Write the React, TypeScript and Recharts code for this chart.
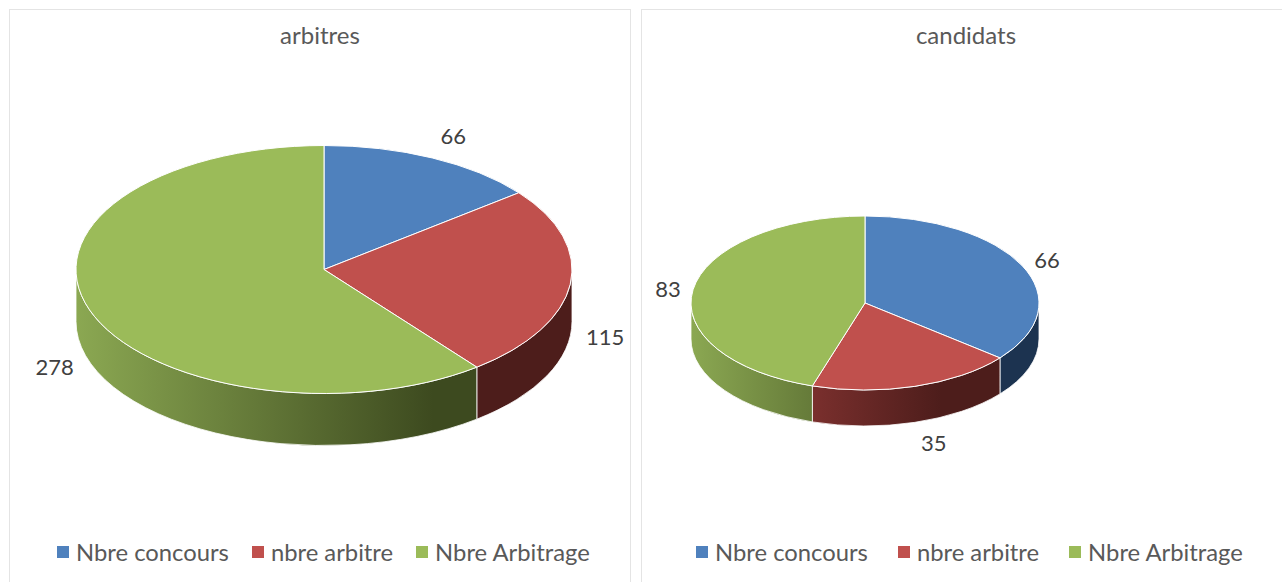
import React from 'react';
import { PieChart, Pie, Cell, Legend } from 'recharts';

const categories = ['Nbre concours', 'nbre arbitre', 'Nbre Arbitrage'];
const arbitresValues = [66, 115, 278];
const candidatsValues = [66, 35, 83];

const topColors = ['#4f81bd', '#c0504d', '#9bbb59'];
const wallLight = ['#3f6ea6', '#a4403e', '#8ba852'];
const wallDark = ['#1c3350', '#4d1d1b', '#3d4a1f'];

const FONT = 'Lato, sans-serif';
const TEXT_COLOR = '#595959';

const toRad = (deg: number) => (deg * Math.PI) / 180;

// Elliptical 3D slice, the angles come from the Pie itself
const makeSlice = (chartId: string, squash: number, depth: number) => (props: any) => {
  const { cx, cy, outerRadius, startAngle, endAngle, index } = props;
  const rx = outerRadius;
  const ry = outerRadius * squash;
  const px = (a: number) => cx + rx * Math.cos(toRad(a));
  const py = (a: number) => cy - ry * Math.sin(toRad(a));
  const large = Math.abs(startAngle - endAngle) > 180 ? 1 : 0;
  const top = `M${cx},${cy} L${px(startAngle)},${py(startAngle)} A${rx},${ry} 0 ${large} 1 ${px(endAngle)},${py(endAngle)} Z`;

  // only the front half of the rim has a visible wall
  const s = Math.min(startAngle, 0);
  const e = Math.max(endAngle, -180);
  const gradId = `${chartId}-wall-${index}`;

  return (
    <g>
      <defs>
        <linearGradient id={gradId} gradientUnits="userSpaceOnUse" x1={cx - rx} x2={cx - rx + 2 * rx * 0.72} y1={0} y2={0}>
          <stop offset="0%" stopColor={wallLight[index]} />
          <stop offset="100%" stopColor={wallDark[index]} />
        </linearGradient>
      </defs>
      {s > e && (
        <path
          d={`M${px(s)},${py(s)} A${rx},${ry} 0 0 1 ${px(e)},${py(e)} L${px(e)},${py(e) + depth} A${rx},${ry} 0 0 0 ${px(s)},${py(s) + depth} Z`}
          fill={`url(#${gradId})`}
          stroke="#fff"
          strokeWidth={0.8}
        />
      )}
      <path d={top} fill={topColors[index]} stroke="#fff" strokeWidth={1} />
    </g>
  );
};

const makeLabel = (squash: number, nudges: number[][]) => (props: any) => {
  const { cx, cy, outerRadius, midAngle, value, index } = props;
  const x = cx + outerRadius * Math.cos(toRad(midAngle)) + nudges[index][0];
  const y = cy - outerRadius * squash * Math.sin(toRad(midAngle)) + nudges[index][1];
  return (
    <text x={x} y={y} fill="#404040" fontFamily={FONT} fontSize={22} textAnchor="middle" dominantBaseline="central">
      {value}
    </text>
  );
};

const makeLegend = (gap: number, left: number) => (props: any) => {
  // keep the category order, the Legend sorts its payload by name
  const items = categories.map((name) => props.payload.find((p: any) => p.value === name)).filter(Boolean);
  return (
    <div style={{ display: 'flex', gap, marginLeft: left, fontFamily: FONT, fontSize: 23.8, color: TEXT_COLOR, lineHeight: '26px', whiteSpace: 'nowrap' }}>
      {items.map((entry: any) => (
        <span key={entry.value} style={{ display: 'flex', alignItems: 'center' }}>
          <span style={{ width: 12, height: 12, marginRight: 7, background: entry.color, display: 'inline-block' }} />
          {entry.value}
        </span>
      ))}
    </div>
  );
};

type PanelProps = {
  id: string;
  title: string;
  values: number[];
  panelLeft: number;
  panelWidth: number;
  cx: number;
  cy: number;
  radius: number;
  depth: number;
  nudges: number[][];
  legendGap: number;
  legendLeft: number;
};

const Panel: React.FC<PanelProps> = ({ id, title, values, panelLeft, panelWidth, cx, cy, radius, depth, nudges, legendGap, legendLeft }) => {
  const data = categories.map((name, i) => ({ name, value: values[i] }));
  return (
    <div style={{ position: 'absolute', left: panelLeft, top: 9, width: panelWidth, height: 600, border: '1px solid #e4e4e4', boxSizing: 'border-box' }}>
      <div style={{ position: 'absolute', left: 0, right: 0, top: 10, textAlign: 'center', fontFamily: FONT, fontSize: 24, color: TEXT_COLOR }}>
        {title}
      </div>
      <div style={{ position: 'absolute', left: 0, top: 0 }}>
        <PieChart width={panelWidth - 2} height={570} margin={{ top: 0, right: 0, bottom: 0, left: 0 }}>
          <Pie
            data={data}
            dataKey="value"
            nameKey="name"
            cx={cx}
            cy={cy}
            innerRadius={0}
            outerRadius={radius}
            startAngle={90}
            endAngle={-270}
            paddingAngle={0}
            isAnimationActive={false}
            labelLine={false}
            label={makeLabel(0.5, nudges)}
            shape={makeSlice(id, 0.5, depth)}
          >
            {data.map((d, i) => (
              <Cell key={d.name} fill={topColors[i]} />
            ))}
          </Pie>
          <Legend
            content={makeLegend(legendGap, legendLeft)}
            wrapperStyle={{ position: 'absolute', left: 0, top: 529, width: '100%' }}
          />
        </PieChart>
      </div>
    </div>
  );
};

export default function App() {
  return (
    <div style={{ position: 'absolute', left: 0, top: 0, width: 1282, height: 582, overflow: 'hidden', background: '#fff' }}>
      <Panel
        id="arbitres"
        title="arbitres"
        values={arbitresValues}
        panelLeft={9}
        panelWidth={622}
        cx={314}
        cy={259.5}
        radius={248}
        depth={52}
        nudges={[[21, -22], [35, 52.5], [-35, 56.5]]}
        legendGap={23}
        legendLeft={47}
      />
      <Panel
        id="candidats"
        title="candidats"
        values={candidatsValues}
        panelLeft={641}
        panelWidth={650}
        cx={223}
        cy={293}
        radius={174}
        depth={36}
        nudges={[[25, -6], [19, 56], [-25, -1]]}
        legendGap={30}
        legendLeft={54}
      />
    </div>
  );
}
